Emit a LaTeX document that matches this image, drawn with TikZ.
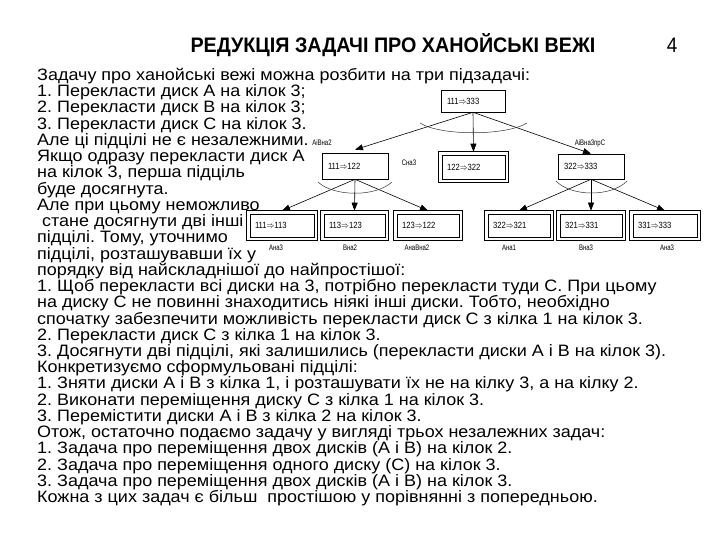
\documentclass[tikz,border=0pt]{standalone}
\usepackage{fontspec}
\setmainfont{Liberation Sans}
\newfontfamily\bodyfont[FakeStretch=1.09]{Liberation Sans}
\usetikzlibrary{arrows.meta}
\newcommand\hanoi[2]{\scalebox{0.85}[1]{#1$\Rightarrow$#2}}
\begin{document}
\frenchspacing
\begin{tikzpicture}[x=1pt,y=-1pt,
  txt/.style={anchor=base west, inner sep=0pt, font=\bodyfont\fontsize{16.5}{16}\selectfont},
  sbox/.style={draw, line width=0.6pt, inner ysep=0pt, inner xsep=6pt, align=left, font=\fontsize{9}{10}\selectfont},
  dbox/.style={draw, line width=0.6pt, inner ysep=0pt, inner xsep=5pt, align=left, font=\fontsize{9}{10}\selectfont},
  outerline/.style={line width=0.6pt},
  lab/.style={inner sep=0pt, font=\fontsize{8}{9}\selectfont},
  arr/.style={-{Triangle[length=8pt,width=6pt]}, line width=0.6pt},
  andarc/.style={line width=0.5pt, draw=black!80}]
\useasboundingbox (0,0) rectangle (720,540);
% title
\node[inner sep=0pt] (title) at (393,45) {\fontsize{21}{24}\selectfont\bfseries\scalebox{0.94}[1]{РЕДУКЦІЯ ЗАДАЧІ ПРО ХАНОЙСЬКІ ВЕЖІ}};
\node[inner sep=0pt] (pnum) at (672,45) {\fontsize{21}{24}\selectfont\scalebox{0.9}[1]{4}};
% text
\node[txt] (l1) at (37,80.5) {Задачу про ханойські вежі можна розбити на три підзадачі:};
\node[txt] (l2) at (37,96.7) {1. Перекласти диск А на кілок 3;};
\node[txt] (l3) at (37,113.0) {2. Перекласти диск В на кілок 3;};
\node[txt] (l4) at (37,129.2) {3. Перекласти диск С на кілок 3.};
\node[txt] (l5) at (37,145.4) {Але ці підцілі не є незалежними.};
\node[txt] (l6) at (37,161.7) {Якщо одразу перекласти диск А};
\node[txt] (l7) at (37,177.9) {на кілок 3, перша підціль};
\node[txt] (l8) at (37,194.1) {буде досягнута.};
\node[txt] (l9) at (37,210.3) {Але при цьому неможливо};
\node[txt] (l10) at (37,226.6) {\hspace{0.3em}стане досягнути дві інші};
\node[txt] (l11) at (37,242.8) {підцілі. Тому, уточнимо};
\node[txt] (l12) at (37,259.0) {підцілі, розташувавши їх у};
\node[txt] (l13) at (37,275.3) {порядку від найскладнішої до найпростішої:};
\node[txt] (l14) at (37,291.5) {1. Щоб перекласти всі диски на 3, потрібно перекласти туди С. При цьому};
\node[txt] (l15) at (37,307.7) {на диску С не повинні знаходитись ніякі інші диски. Тобто, необхідно};
\node[txt] (l16) at (37,324.0) {спочатку забезпечити можливість перекласти диск С з кілка 1 на кілок 3.};
\node[txt] (l17) at (37,340.2) {2. Перекласти диск С з кілка 1 на кілок 3.};
\node[txt] (l18) at (37,356.4) {3. Досягнути дві підцілі, які залишились (перекласти диски А і В на кілок 3).};
\node[txt] (l19) at (37,372.7) {Конкретизуємо сформульовані підцілі:};
\node[txt] (l20) at (37,388.9) {1. Зняти диски А і В з кілка 1, і розташувати їх не на кілку 3, а на кілку 2.};
\node[txt] (l21) at (37,405.1) {2. Виконати переміщення диску С з кілка 1 на кілок 3.};
\node[txt] (l22) at (37,421.3) {3. Перемістити диски А і В з кілка 2 на кілок 3.};
\node[txt] (l23) at (37,437.6) {Отож, остаточно подаємо задачу у вигляді трьох незалежних задач:};
\node[txt] (l24) at (37,453.8) {1. Задача про переміщення двох дисків (А і В) на кілок 2.};
\node[txt] (l25) at (37,470.0) {2. Задача про переміщення одного диску (С) на кілок 3.};
\node[txt] (l26) at (37,486.3) {3. Задача про переміщення двох дисків (А і В) на кілок 3.};
\node[txt] (l27) at (37,502.5) {Кожна з цих задач є більш\ \ простішою у порівнянні з попередньою.};
% tree nodes
\node[sbox, text width=52pt, minimum height=22pt] (top) at (473,101) {\hanoi{111}{333}};
\node[sbox, text width=54pt, minimum height=26pt] (n1) at (355,166) {\hanoi{111}{122}};
\node[dbox, text width=53pt, minimum height=24pt] (n2) at (473.5,167) {\hanoi{122}{322}};
\node[sbox, text width=54pt, minimum height=25pt] (n3) at (591,166.5) {\hanoi{322}{333}};
\node[dbox, text width=54pt, minimum height=23pt] (a1) at (282,225.5) {\hanoi{111}{113}};
\node[dbox, text width=51pt, minimum height=23pt] (a2) at (354.5,225.5) {\hanoi{113}{123}};
\node[dbox, text width=52pt, minimum height=23pt] (a3) at (428,225.5) {\hanoi{123}{122}};
\node[dbox, text width=52pt, minimum height=23pt] (b1) at (519,225.5) {\hanoi{322}{321}};
\node[dbox, text width=52pt, minimum height=23pt] (b2) at (591,225.5) {\hanoi{321}{331}};
\node[dbox, text width=54pt, minimum height=23pt] (b3) at (665,225.5) {\hanoi{331}{333}};
\foreach \n in {n2,a1,a2,a3,b1,b2,b3}
  \draw[outerline] ([xshift=-3pt,yshift=-3pt]\n.south west) rectangle ([xshift=3pt,yshift=3pt]\n.north east);
% labels
\node[lab] (t1) at (322,143) {\scalebox{0.75}[1]{АіВна2}};
\node[lab] (t2) at (409,163) {\scalebox{0.75}[1]{Сна3}};
\node[lab] (t3) at (590,143) {\scalebox{0.75}[1]{АіВна3прС}};
\node[lab] (u1) at (276,248) {\scalebox{0.75}[1]{Ана3}};
\node[lab] (u2) at (350,248) {\scalebox{0.75}[1]{Вна2}};
\node[lab] (u3) at (417,248) {\scalebox{0.75}[1]{АнаВна2}};
\node[lab] (v1) at (509,248) {\scalebox{0.75}[1]{Ана1}};
\node[lab] (v2) at (586,248) {\scalebox{0.75}[1]{Вна3}};
\node[lab] (v3) at (667,248) {\scalebox{0.75}[1]{Ана3}};
% arrows
\draw[arr] (top.south) -- ([yshift=3pt]n1.north);
\draw[arr] (top.south) -- ([yshift=3pt]n2.north);
\draw[arr] (top.south) -- ([yshift=0pt]n3.north);
\draw[arr] (n1.south) -- ([yshift=3pt]a1.north);
\draw[arr] (n1.south) -- ([yshift=3pt]a2.north);
\draw[arr] (n1.south) -- ([yshift=3pt]a3.north);
\draw[arr] (n3.south) -- ([yshift=3pt]b1.north);
\draw[arr] (n3.south) -- ([yshift=3pt]b2.north);
\draw[arr] (n3.south) -- ([yshift=3pt]b3.north);
% and-arcs
\draw[andarc] (420,123) .. controls (440,136) and (506,136) .. (527,123);
\draw[andarc] (318,182) .. controls (334,197) and (376,197) .. (392,182);
\draw[andarc] (556,181) .. controls (571,197) and (612,197) .. (627,181);
\end{tikzpicture}
\end{document}
